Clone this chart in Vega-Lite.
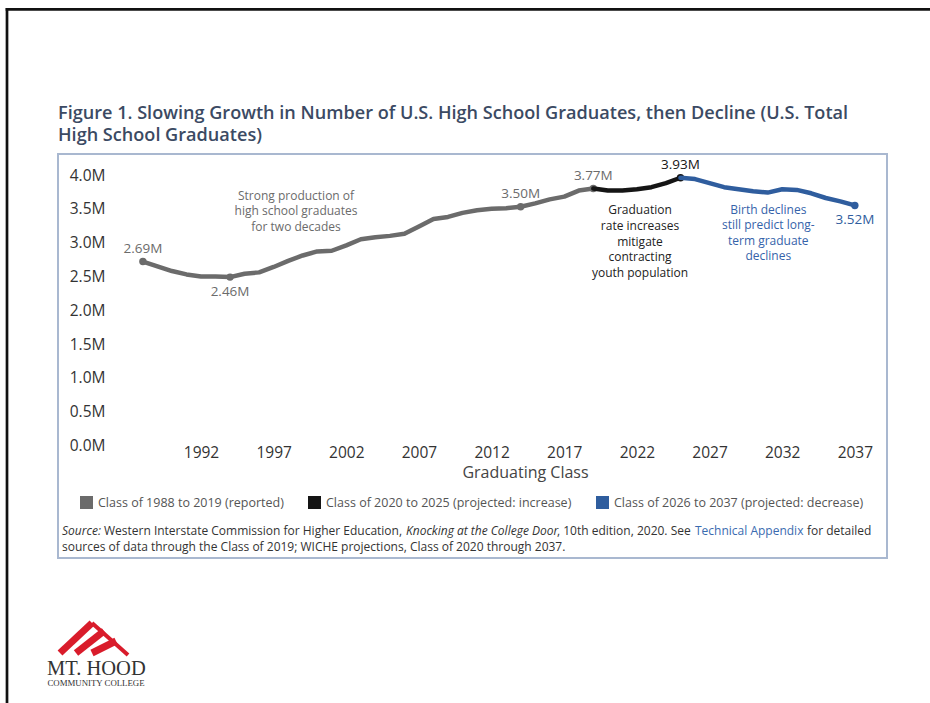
{
  "$schema": "https://vega.github.io/schema/vega-lite/v6.json",
  "width": 829,
  "height": 404,
  "autosize": {"type": "none"},
  "padding": {"left": 58, "top": 154, "right": 43, "bottom": 145},
  "background": "white",
  "title": {
    "text": ["Figure 1. Slowing Growth in Number of U.S. High School Graduates, then Decline (U.S. Total", "High School Graduates)"],
    "anchor": "start",
    "frame": "group",
    "orient": "top",
    "offset": 0,
    "dy": 138,
    "font": "Open Sans",
    "fontSize": 18.1,
    "fontWeight": 600,
    "color": "#3b4a63",
    "lineHeight": 22
  },
  "data": {
    "values": [
      {"series": "Class of 1988 to 2019 (reported)", "year": 1988, "value": 2.69, "label": "2.69M"},
      {"series": "Class of 1988 to 2019 (reported)", "year": 1989, "value": 2.62},
      {"series": "Class of 1988 to 2019 (reported)", "year": 1990, "value": 2.55},
      {"series": "Class of 1988 to 2019 (reported)", "year": 1991, "value": 2.5},
      {"series": "Class of 1988 to 2019 (reported)", "year": 1992, "value": 2.47},
      {"series": "Class of 1988 to 2019 (reported)", "year": 1993, "value": 2.47},
      {"series": "Class of 1988 to 2019 (reported)", "year": 1994, "value": 2.46, "label": "2.46M"},
      {"series": "Class of 1988 to 2019 (reported)", "year": 1995, "value": 2.51},
      {"series": "Class of 1988 to 2019 (reported)", "year": 1996, "value": 2.53},
      {"series": "Class of 1988 to 2019 (reported)", "year": 1997, "value": 2.61},
      {"series": "Class of 1988 to 2019 (reported)", "year": 1998, "value": 2.7},
      {"series": "Class of 1988 to 2019 (reported)", "year": 1999, "value": 2.78},
      {"series": "Class of 1988 to 2019 (reported)", "year": 2000, "value": 2.84},
      {"series": "Class of 1988 to 2019 (reported)", "year": 2001, "value": 2.85},
      {"series": "Class of 1988 to 2019 (reported)", "year": 2002, "value": 2.93},
      {"series": "Class of 1988 to 2019 (reported)", "year": 2003, "value": 3.02},
      {"series": "Class of 1988 to 2019 (reported)", "year": 2004, "value": 3.05},
      {"series": "Class of 1988 to 2019 (reported)", "year": 2005, "value": 3.07},
      {"series": "Class of 1988 to 2019 (reported)", "year": 2006, "value": 3.1},
      {"series": "Class of 1988 to 2019 (reported)", "year": 2007, "value": 3.21},
      {"series": "Class of 1988 to 2019 (reported)", "year": 2008, "value": 3.32},
      {"series": "Class of 1988 to 2019 (reported)", "year": 2009, "value": 3.35},
      {"series": "Class of 1988 to 2019 (reported)", "year": 2010, "value": 3.41},
      {"series": "Class of 1988 to 2019 (reported)", "year": 2011, "value": 3.45},
      {"series": "Class of 1988 to 2019 (reported)", "year": 2012, "value": 3.47},
      {"series": "Class of 1988 to 2019 (reported)", "year": 2013, "value": 3.48},
      {"series": "Class of 1988 to 2019 (reported)", "year": 2014, "value": 3.5, "label": "3.50M"},
      {"series": "Class of 1988 to 2019 (reported)", "year": 2015, "value": 3.55},
      {"series": "Class of 1988 to 2019 (reported)", "year": 2016, "value": 3.61},
      {"series": "Class of 1988 to 2019 (reported)", "year": 2017, "value": 3.65},
      {"series": "Class of 1988 to 2019 (reported)", "year": 2018, "value": 3.74},
      {"series": "Class of 1988 to 2019 (reported)", "year": 2019, "value": 3.77, "label": "3.77M"},
      {"series": "Class of 2020 to 2025 (projected: increase)", "year": 2019, "value": 3.77},
      {"series": "Class of 2020 to 2025 (projected: increase)", "year": 2020, "value": 3.74},
      {"series": "Class of 2020 to 2025 (projected: increase)", "year": 2021, "value": 3.74},
      {"series": "Class of 2020 to 2025 (projected: increase)", "year": 2022, "value": 3.76},
      {"series": "Class of 2020 to 2025 (projected: increase)", "year": 2023, "value": 3.79},
      {"series": "Class of 2020 to 2025 (projected: increase)", "year": 2024, "value": 3.85},
      {"series": "Class of 2020 to 2025 (projected: increase)", "year": 2025, "value": 3.93, "label": "3.93M"},
      {"series": "Class of 2026 to 2037 (projected: decrease)", "year": 2025, "value": 3.93},
      {"series": "Class of 2026 to 2037 (projected: decrease)", "year": 2026, "value": 3.91},
      {"series": "Class of 2026 to 2037 (projected: decrease)", "year": 2027, "value": 3.85},
      {"series": "Class of 2026 to 2037 (projected: decrease)", "year": 2028, "value": 3.79},
      {"series": "Class of 2026 to 2037 (projected: decrease)", "year": 2029, "value": 3.76},
      {"series": "Class of 2026 to 2037 (projected: decrease)", "year": 2030, "value": 3.73},
      {"series": "Class of 2026 to 2037 (projected: decrease)", "year": 2031, "value": 3.71},
      {"series": "Class of 2026 to 2037 (projected: decrease)", "year": 2032, "value": 3.76},
      {"series": "Class of 2026 to 2037 (projected: decrease)", "year": 2033, "value": 3.75},
      {"series": "Class of 2026 to 2037 (projected: decrease)", "year": 2034, "value": 3.7},
      {"series": "Class of 2026 to 2037 (projected: decrease)", "year": 2035, "value": 3.63},
      {"series": "Class of 2026 to 2037 (projected: decrease)", "year": 2036, "value": 3.58},
      {"series": "Class of 2026 to 2037 (projected: decrease)", "year": 2037, "value": 3.52, "label": "3.52M"}
    ]
  },
  "layer": [
    {
      "transform": [{"filter": "isValid(datum.label)"}],
      "mark": {"type": "point", "filled": true, "size": 55, "opacity": 1},
      "encoding": {
        "x": {
          "field": "year", "type": "quantitative",
          "scale": {"domain": [1982.158, 2039.213], "nice": false, "zero": false},
          "axis": {
            "title": "Graduating Class",
            "orient": "bottom",
            "offset": -115,
            "values": [1992, 1997, 2002, 2007, 2012, 2017, 2022, 2027, 2032, 2037],
            "format": "d",
            "grid": false, "domain": false, "ticks": false,
            "labelPadding": 2,
            "labelFont": "Open Sans", "labelFontSize": 15.5, "labelColor": "#333333",
            "titleFont": "Open Sans", "titleFontSize": 16, "titleFontWeight": "normal", "titleColor": "#444444",
            "titleX": 467, "titleY": 29, "titleBaseline": "middle", "titleAnchor": "middle"
          }
        },
        "y": {
          "field": "value", "type": "quantitative",
          "scale": {"domain": [-1.6953, 4.2811], "nice": false, "zero": false},
          "axis": {
            "title": null,
            "orient": "left",
            "offset": -49,
            "values": [0, 0.5, 1, 1.5, 2, 2.5, 3, 3.5, 4],
            "labelExpr": "format(datum.value, '.1f') + 'M'",
            "grid": false, "domain": false, "ticks": false,
            "labelPadding": 2, "labelOffset": 2,
            "labelFont": "Open Sans", "labelFontSize": 15.5, "labelColor": "#333333"
          }
        },
        "color": {
          "field": "series", "type": "nominal",
          "scale": {
            "domain": ["Class of 1988 to 2019 (reported)", "Class of 2020 to 2025 (projected: increase)", "Class of 2026 to 2037 (projected: decrease)"],
            "range": ["#6b6b6b", "#151515", "#2f5d9e"]
          },
          "legend": {
            "title": null, "orient": "none", "legendX": 22, "legendY": 342,
            "direction": "horizontal", "symbolType": "square", "symbolSize": 169,
            "symbolStrokeWidth": 0, "symbolOpacity": 1,
            "labelFont": "Open Sans", "labelFontSize": 12.5, "labelColor": "#555555", "labelLimit": 400,
            "labelOffset": 5, "columnPadding": 24, "padding": 0
          }
        }
      }
    },
    {
      "mark": {"type": "line", "strokeWidth": 4.5, "strokeCap": "round", "strokeJoin": "round"},
      "encoding": {
        "x": {"field": "year", "type": "quantitative"},
        "y": {"field": "value", "type": "quantitative"},
        "color": {"field": "series", "type": "nominal", "legend": null},
        "order": {"field": "year"}
      }
    },
    {
      "transform": [{"filter": "isValid(datum.label) && datum.year != 1994 && datum.year != 2037"}],
      "mark": {"type": "text", "dy": -13, "font": "Open Sans", "fontSize": 13.5, "baseline": "middle"},
      "encoding": {
        "x": {"field": "year", "type": "quantitative"},
        "y": {"field": "value", "type": "quantitative"},
        "text": {"field": "label"},
        "color": {"field": "series", "type": "nominal", "legend": null}
      }
    },
    {
      "transform": [{"filter": "datum.year == 1994 || datum.year == 2037"}],
      "mark": {"type": "text", "dy": 15, "font": "Open Sans", "fontSize": 13.5, "baseline": "middle"},
      "encoding": {
        "x": {"field": "year", "type": "quantitative"},
        "y": {"field": "value", "type": "quantitative"},
        "text": {"field": "label"},
        "color": {"field": "series", "type": "nominal", "legend": null}
      }
    },
    {
      "data": {"values": [{}]},
      "mark": {"type": "text", "text": ["Strong production of", "high school graduates", "for two decades"], "font": "Open Sans", "fontSize": 12, "lineHeight": 15.5, "color": "#6b6b6b", "align": "center", "baseline": "middle"},
      "encoding": {"x": {"datum": 1998.54}, "y": {"datum": 3.6598}}
    },
    {
      "data": {"values": [{}]},
      "mark": {"type": "text", "text": ["Graduation", "rate increases", "mitigate", "contracting", "youth population"], "font": "Open Sans", "fontSize": 12, "lineHeight": 15.8, "color": "#222222", "align": "center", "baseline": "middle"},
      "encoding": {"x": {"datum": 2022.213}, "y": {"datum": 3.4527}}
    },
    {
      "data": {"values": [{}]},
      "mark": {"type": "text", "text": ["Birth declines", "still predict long-", "term graduate", "declines"], "font": "Open Sans", "fontSize": 12, "lineHeight": 15.5, "color": "#3563aa", "align": "center", "baseline": "middle"},
      "encoding": {"x": {"datum": 2031.044}, "y": {"datum": 3.4527}}
    },
    {
      "data": {"values": [{}]},
      "mark": {"type": "text", "text": "Source:", "font": "Open Sans", "fontSize": 12, "fontStyle": "italic", "color": "#333333", "align": "left", "baseline": "middle"},
      "encoding": {"x": {"datum": 1982.434}, "y": {"datum": -1.2959}}
    },
    {
      "data": {"values": [{}]},
      "mark": {"type": "text", "text": "Western Interstate Commission for Higher Education,", "font": "Open Sans", "fontSize": 12, "color": "#333333", "align": "left", "baseline": "middle"},
      "encoding": {"x": {"datum": 1985.32}, "y": {"datum": -1.2959}}
    },
    {
      "data": {"values": [{}]},
      "mark": {"type": "text", "text": "Knocking at the College Door", "font": "Open Sans", "fontSize": 12, "fontStyle": "italic", "color": "#333333", "align": "left", "baseline": "middle"},
      "encoding": {"x": {"datum": 2006.109}, "y": {"datum": -1.2959}}
    },
    {
      "data": {"values": [{}]},
      "mark": {"type": "text", "text": ", 10th edition, 2020. See", "font": "Open Sans", "fontSize": 12, "color": "#333333", "align": "left", "baseline": "middle"},
      "encoding": {"x": {"datum": 2016.501}, "y": {"datum": -1.2959}}
    },
    {
      "data": {"values": [{}]},
      "mark": {"type": "text", "text": "Technical Appendix", "font": "Open Sans", "fontSize": 12, "color": "#3a6bb0", "align": "left", "baseline": "middle"},
      "encoding": {"x": {"datum": 2025.998}, "y": {"datum": -1.2959}}
    },
    {
      "data": {"values": [{}]},
      "mark": {"type": "text", "text": "for detailed", "font": "Open Sans", "fontSize": 12, "color": "#333333", "align": "left", "baseline": "middle"},
      "encoding": {"x": {"datum": 2033.706}, "y": {"datum": -1.2959}}
    },
    {
      "data": {"values": [{}]},
      "mark": {"type": "text", "text": "sources of data through the Class of 2019; WICHE projections, Class of 2020 through 2037.", "font": "Open Sans", "fontSize": 12, "color": "#333333", "align": "left", "baseline": "middle"},
      "encoding": {"x": {"datum": 1982.434}, "y": {"datum": -1.5325}}
    },
    {
      "data": {"values": [{}]},
      "mark": {"type": "rule", "color": "#111111", "strokeWidth": 2.7, "strokeCap": "square"},
      "encoding": {"x": {"datum": 1978.648}, "x2": {"datum": 2042.5}, "y": {"datum": 6.4216}}
    },
    {
      "data": {"values": [{}]},
      "mark": {"type": "rule", "color": "#111111", "strokeWidth": 2.7, "strokeCap": "square"},
      "encoding": {"x": {"datum": 1978.648}, "y": {"datum": 6.4216}, "y2": {"datum": -3.86}}
    },
    {
      "data": {"values": [{}]},
      "mark": {"type": "rule", "color": "#d91c2b", "strokeWidth": 7, "strokeCap": "butt"},
      "encoding": {"x": {"datum": 1982.296}, "y": {"datum": -3.1006}, "x2": {"datum": 1984.498}, "y2": {"datum": -2.6568}}
    },
    {
      "data": {"values": [{}]},
      "mark": {"type": "rule", "color": "#d91c2b", "strokeWidth": 7, "strokeCap": "butt"},
      "encoding": {"x": {"datum": 1983.397}, "y": {"datum": -3.1006}, "x2": {"datum": 1985.324}, "y2": {"datum": -2.7751}}
    },
    {
      "data": {"values": [{}]},
      "mark": {"type": "rule", "color": "#d91c2b", "strokeWidth": 7, "strokeCap": "butt"},
      "encoding": {"x": {"datum": 1984.498}, "y": {"datum": -3.1006}, "x2": {"datum": 1986.15}, "y2": {"datum": -2.9231}}
    },
    {
      "data": {"values": [{}]},
      "mark": {"type": "rule", "color": "#d91c2b", "strokeWidth": 4, "strokeCap": "butt"},
      "encoding": {"x": {"datum": 1984.498}, "y": {"datum": -2.6568}, "x2": {"datum": 1986.976}, "y2": {"datum": -3.1302}}
    },
    {
      "data": {"values": [{}]},
      "mark": {"type": "text", "text": "MT. HOOD", "font": "Liberation Serif", "fontSize": 20.5, "color": "#333333", "align": "left", "baseline": "alphabetic"},
      "encoding": {"x": {"datum": 1981.4}, "y": {"datum": -3.426}}
    },
    {
      "data": {"values": [{}]},
      "mark": {"type": "text", "text": "COMMUNITY COLLEGE", "font": "Liberation Serif", "fontSize": 8.8, "color": "#333333", "align": "center", "baseline": "alphabetic"},
      "encoding": {"x": {"datum": 1984.774}, "y": {"datum": -3.589}}
    }
  ],
  "config": {
    "view": {"stroke": "#a9b8d0", "strokeWidth": 2, "fill": "white"},
    "font": "Open Sans"
  }
}
